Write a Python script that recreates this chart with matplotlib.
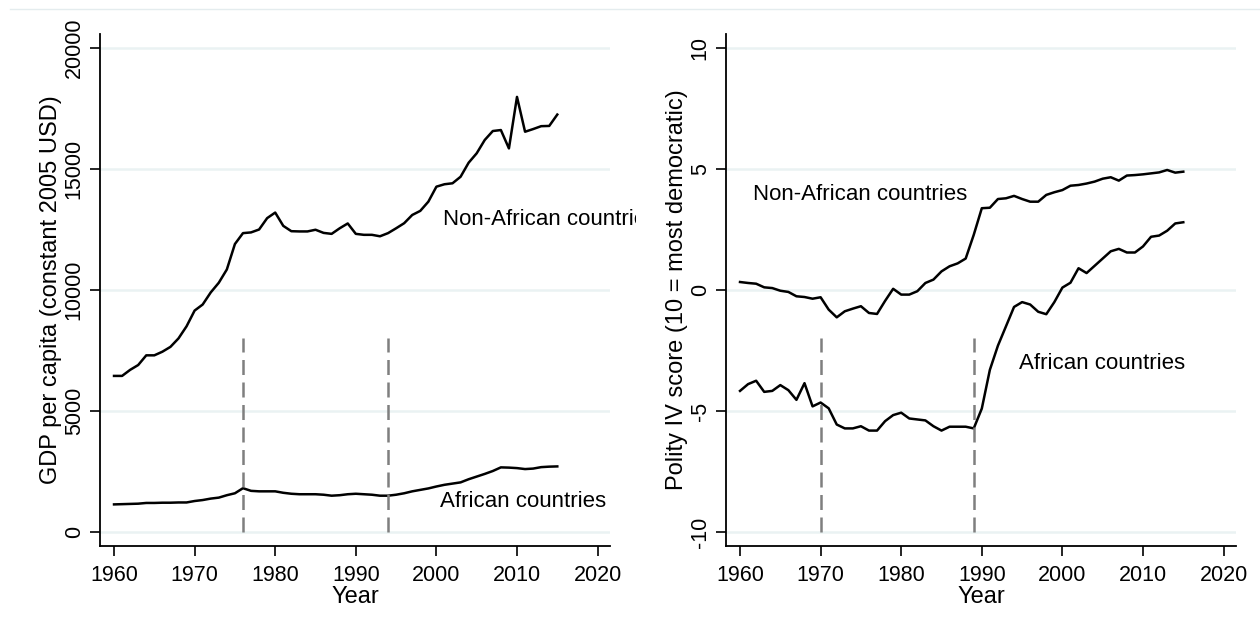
import numpy as np
import matplotlib.pyplot as plt
from matplotlib.transforms import Bbox

plt.rcParams['font.family'] = ['Liberation Sans', 'DejaVu Sans']

years = list(range(1960, 2016))

# GDP per capita, constant 2005 USD
gdp_nonafrica = [6450, 6450, 6700, 6900, 7300, 7300, 7450, 7650, 8000, 8500,
                 9150, 9400, 9900, 10300, 10850, 11900, 12350, 12380, 12500, 12970,
                 13200, 12650, 12430, 12420, 12420, 12490, 12360, 12320, 12550, 12750,
                 12320, 12280, 12280, 12220, 12350, 12550, 12760, 13100, 13270, 13650,
                 14270, 14370, 14410, 14680, 15260, 15650, 16200, 16570, 16610, 15850,
                 17980, 16540, 16650, 16770, 16780, 17250]
gdp_africa = [1140, 1150, 1160, 1170, 1200, 1200, 1210, 1210, 1220, 1220,
              1280, 1320, 1380, 1420, 1520, 1600, 1810, 1700, 1680, 1680,
              1680, 1620, 1580, 1560, 1560, 1560, 1540, 1500, 1520, 1560,
              1580, 1560, 1540, 1500, 1500, 1540, 1600, 1680, 1740, 1800,
              1880, 1950, 2000, 2050, 2180, 2290, 2400, 2520, 2670, 2660,
              2640, 2600, 2620, 2680, 2700, 2710]

# Polity IV score
polity_nonafrica = [0.33, 0.29, 0.26, 0.11, 0.08, -0.03, -0.08, -0.26, -0.29, -0.36,
                    -0.30, -0.81, -1.13, -0.88, -0.77, -0.67, -0.95, -0.99, -0.45, 0.05,
                    -0.19, -0.19, -0.05, 0.29, 0.43, 0.77, 0.98, 1.10, 1.30, 2.28,
                    3.38, 3.40, 3.76, 3.79, 3.89, 3.76, 3.65, 3.65, 3.93, 4.04,
                    4.13, 4.31, 4.34, 4.40, 4.48, 4.60, 4.66, 4.52, 4.73, 4.75,
                    4.78, 4.82, 4.86, 4.96, 4.85, 4.89]
polity_africa = [-4.17, -3.89, -3.75, -4.21, -4.17, -3.93, -4.14, -4.54, -3.85, -4.81,
                 -4.65, -4.89, -5.56, -5.72, -5.72, -5.63, -5.81, -5.81, -5.42, -5.17,
                 -5.07, -5.31, -5.35, -5.39, -5.63, -5.81, -5.65, -5.65, -5.65, -5.72,
                 -4.90, -3.30, -2.30, -1.50, -0.70, -0.50, -0.60, -0.90, -1.00, -0.50,
                 0.10, 0.30, 0.90, 0.70, 1.00, 1.30, 1.60, 1.70, 1.55, 1.55,
                 1.80, 2.20, 2.25, 2.45, 2.75, 2.80]

gdp_breaks = [1976, 1994]
polity_breaks = [1970, 1989]

xticks = [1960, 1970, 1980, 1990, 2000, 2010, 2020]
gdp_ticks = [0, 5000, 10000, 15000, 20000]
polity_ticks = [-10, -5, 0, 5, 10]

W, H = 1260, 626
fig = plt.figure(figsize=(12.6, 6.26), dpi=100)

grid_c = '#eaf2f3'
fs = 15.5      # tick labels
fs_title = 17  # axis titles
fs_note = 16   # series labels
lw = 1.8


def make_axes(left_px):
    ax = fig.add_axes([left_px / W, (H - 546) / H, 510 / W, 512 / H])
    ax.set_xlim(1958.26, 2021.54)
    for s in ['top', 'right']:
        ax.spines[s].set_visible(False)
    ax.spines['left'].set_linewidth(1.3)
    ax.spines['bottom'].set_linewidth(1.3)
    ax.set_xticks(xticks)
    ax.tick_params(axis='both', length=7, width=1.2, labelsize=fs)
    ax.tick_params(axis='x', pad=7)
    ax.tick_params(axis='y', labelrotation=90, pad=4)
    ax.set_xlabel('Year', fontsize=fs_title, labelpad=0)
    return ax


# left panel: GDP per capita
ax1 = make_axes(100)
ax1.set_ylim(-579, 20579)
ax1.set_yticks(gdp_ticks)
ax1.set_yticklabels([str(t) for t in gdp_ticks], va='center')
for t in gdp_ticks:
    ax1.axhline(t, color=grid_c, lw=1.8, zorder=0)
ax1.plot(years, gdp_nonafrica, color='black', lw=lw)
ax1.plot(years, gdp_africa, color='black', lw=lw)
ax1.vlines(gdp_breaks, 0, 8000, colors='#7f7f7f', linestyles=(0, (6, 3)), lw=lw)
t1 = ax1.text(2000.8, 12930, 'Non-African countries', fontsize=fs_note, va='center')
t1.set_clip_box(Bbox.from_extents(0, 0, 636, H))
t1.set_clip_on(True)
ax1.text(2000.5, 1250, 'African countries', fontsize=fs_note, va='center')
ax1.set_ylabel('GDP per capita (constant 2005 USD)', fontsize=fs_title, labelpad=1)

# right panel: Polity IV
ax2 = make_axes(726)
ax2.set_ylim(-10.58, 10.58)
ax2.set_yticks(polity_ticks)
ax2.set_yticklabels([str(t) for t in polity_ticks], va='center')
for t in polity_ticks:
    ax2.axhline(t, color=grid_c, lw=1.8, zorder=0)
ax2.plot(years, polity_nonafrica, color='black', lw=lw)
ax2.plot(years, polity_africa, color='black', lw=lw)
ax2.vlines(polity_breaks, -10, -2, colors='#7f7f7f', linestyles=(0, (6, 3)), lw=lw)
ax2.text(1961.6, 3.93, 'Non-African countries', fontsize=fs_note, va='center')
ax2.text(1994.6, -3.03, 'African countries', fontsize=fs_note, va='center')
ax2.set_ylabel('Polity IV score (10 = most democratic)', fontsize=fs_title, labelpad=1)

# thin rule along the top
fig.add_artist(plt.Line2D([10 / W, 1], [1 - 9 / H, 1 - 9 / H], color='#e4ecee', lw=1.0))

fig.savefig('out.png', dpi=100, facecolor='white')
